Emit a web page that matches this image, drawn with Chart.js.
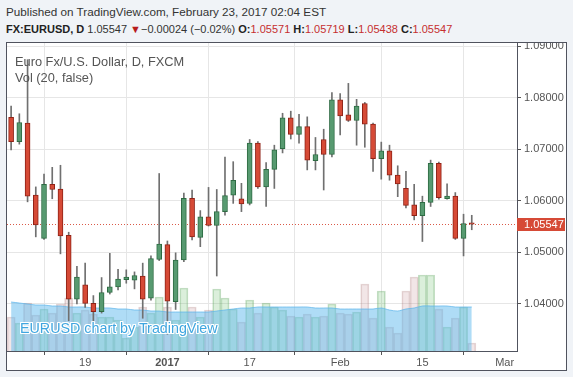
<!DOCTYPE html>
<html>
<head>
<meta charset="utf-8">
<script src="https://cdn.jsdelivr.net/npm/chart.js"></script>
<style>
  body { margin: 0; background: #f0f3f7; font-family: "Liberation Sans", Arial, sans-serif; }
  #page { position: relative; width: 573px; height: 377px; overflow: hidden; }
  #pub { position: absolute; left: 6px; top: 5px; font-size: 11.7px; color: #333; white-space: nowrap; }
  #quote { position: absolute; left: 6px; top: 23px; font-size: 11px; color: #333; white-space: nowrap; }
  #quote b { color: #222; }
  #quote .r { color: #c62f2f; }
  #box { position: absolute; left: 6px; top: 42px; width: 559px; height: 327px; border: 1px solid #50535e; background: #fff; }
  canvas { display: block; }
  .lbl { position: absolute; left: 8px; font-size: 12.8px; color: #555; white-space: nowrap; }
  #mark { position: absolute; left: 13px; top: 277px; font-size: 14.3px; color: #3fa6e0; white-space: nowrap;
          text-shadow: -1px -1px 0 #fff, 1px -1px 0 #fff, -1px 1px 0 #fff, 1px 1px 0 #fff, 0 1px 0 #fff, 0 -1px 0 #fff, 1px 0 0 #fff, -1px 0 0 #fff; }
</style>
</head>
<body>
<div id="page">
  <div id="pub">Published on TradingView.com, February 23, 2017 02:04 EST</div>
  <div id="quote"><b>FX:EURUSD, D</b> 1.05547 <span style="color:#b71c1c">&#9660;</span>&minus;0.00024 (&minus;0.02%) <b>O:</b><span class="r">1.05571</span> <b>H:</b><span class="r">1.05719</span> <b>L:</b><span class="r">1.05438</span> <b>C:</b><span class="r">1.05547</span></div>
  <div id="box">
    <canvas id="myChart" width="559" height="327"></canvas>
    <div class="lbl" style="top:11px">Euro Fx/U.S. Dollar, D, FXCM</div>
    <div class="lbl" style="top:27px">Vol (20, false)</div>
    <div id="mark">EURUSD chart by TradingView</div>
  </div>
</div>
<script>
// daily candles, Dec 6 2016 .. Feb 23 2017
const opens  = [1.0762,1.0715,1.0751,1.0611,1.0527,1.0632,1.0623,1.0533,1.0409,1.0437,
                1.0401,1.0385,1.0422,1.0433,1.0447,1.0446,1.0454,1.0411,1.0486,1.0515,
                1.0404,1.0485,1.0605,1.0529,1.0569,1.0552,1.0579,1.0611,1.0604,1.0595,
                1.0712,1.0627,1.0661,1.0701,1.0761,1.0729,1.0744,1.0678,1.0719,1.0690,
                1.0796,1.0767,1.0756,1.0789,1.0749,1.0682,1.0697,1.0650,1.0624,1.0592,
                1.0571,1.0597,1.0673,1.0604,1.0609,1.0527,1.05571];
const highs  = [1.0784,1.0769,1.0874,1.0627,1.0652,1.0665,1.0669,1.0539,1.0473,1.0479,
                1.0416,1.0451,1.0498,1.0467,1.0466,1.0462,1.0479,1.0493,1.0653,1.0522,
                1.0499,1.0615,1.0621,1.0581,1.0626,1.0622,1.0685,1.0676,1.0634,1.0719,
                1.0715,1.0674,1.0708,1.0770,1.0774,1.0768,1.0763,1.0723,1.0739,1.0810,
                1.0808,1.0828,1.0797,1.0791,1.0751,1.0714,1.0708,1.0668,1.0657,1.0632,
                1.0609,1.0679,1.0675,1.0633,1.0616,1.0574,1.05719];
const lows   = [1.0699,1.0710,1.0598,1.0530,1.0525,1.0604,1.0497,1.0367,1.0400,1.0393,
                1.0362,1.0382,1.0419,1.0427,1.0440,1.0429,1.0372,1.0407,1.0484,1.0341,
                1.0389,1.0482,1.0524,1.0511,1.0551,1.0454,1.0572,1.0595,1.0579,1.0592,
                1.0624,1.0589,1.0624,1.0693,1.0720,1.0712,1.0660,1.0660,1.0621,1.0685,
                1.0728,1.0754,1.0708,1.0704,1.0657,1.0642,1.0640,1.0608,1.0586,1.0563,
                1.0521,1.0589,1.0603,1.0603,1.0525,1.0493,1.05438];
const closes = [1.0715,1.0752,1.0609,1.0553,1.0632,1.0622,1.0532,1.0409,1.0452,1.0401,
                1.0385,1.0422,1.0433,1.0448,1.0452,1.0455,1.0409,1.0488,1.0516,1.0405,
                1.0485,1.0605,1.0530,1.0569,1.0552,1.0579,1.0610,1.0640,1.0594,1.0712,
                1.0627,1.0661,1.0699,1.0761,1.0729,1.0744,1.0679,1.0690,1.0690,1.0796,
                1.0765,1.0756,1.0784,1.0749,1.0682,1.0697,1.0650,1.0633,1.0591,1.0571,
                1.0597,1.0673,1.0606,1.0609,1.0527,1.0556,1.05547];
const volumes = [34,28,48,36,42,38,47,53,38,41, 37,34,34,31,13,24,44,38,54,44,
                 31,63,44,34,41,62,53,42,29,51, 38,48,44,41,35,34,37,34,35,47,
                 38,37,39,67,33,60,24,18,60,74, 76,76,42,24,33,44,8];
const volMA   = [49,48,47,46,46,45,45,44,44,44, 43,43,43,42,42,41,41,40,40,39,
                 39,39,39,39,39,40,41,42,43,43, 44,44,44,44,44,44,44,43,43,43,
                 42,42,42,42,42,43,41,40,42,43, 45,45,45,45,44,44,44];
const tickIdx   = [9, 19, 29, 40, 50, 60];
const tickNames = ['19', '2017', '17', 'Feb', '15', 'Mar'];
const priceTicks = [1.04, 1.05, 1.06, 1.07, 1.08, 1.09];
const lastPrice = 1.05547;

const up = closes.map((c, i) => c >= opens[i]);
const bodies = closes.map((c, i) => ({x: i, y: [opens[i], c]}));
const wicks = highs.map((h, i) => ({x: i, y: [lows[i], h]}));
const vols = volumes.map((v, i) => ({x: i, y: v}));
const ma = volMA.map((v, i) => ({x: i, y: v}));

const lastLine = {
  id: 'lastLine',
  beforeDatasetsDraw(chart) {
    const c = chart.ctx, a = chart.chartArea;
    const y = Math.round(chart.scales.y.getPixelForValue(lastPrice)) + 0.5;
    c.save();
    c.strokeStyle = 'rgba(214,72,52,0.9)';
    c.setLineDash([1, 2]);
    c.lineWidth = 1;
    c.beginPath(); c.moveTo(a.left, y); c.lineTo(a.right, y); c.stroke();
    c.restore();
  },
  afterDraw(chart) {
    const c = chart.ctx, a = chart.chartArea;
    const y = chart.scales.y.getPixelForValue(lastPrice);
    c.save();
    c.fillStyle = '#d64a36';
    c.fillRect(a.right, Math.round(y) - 6, 48, 13);
    c.fillStyle = '#fff';
    c.font = '11px "Liberation Sans", Arial';
    c.textBaseline = 'middle';
    c.fillText(lastPrice.toFixed(5), a.right + 7, Math.round(y) + 0.5);
    c.restore();
  }
};

Chart.defaults.font.family = '"Liberation Sans", Arial, sans-serif';
Chart.defaults.color = '#555';

new Chart(document.getElementById('myChart'), {
  type: 'bar',
  data: {
    datasets: [
      { data: bodies, order: 0, grouped: false, barThickness: 5, minBarLength: 1, borderWidth: 1, borderSkipped: false,
        backgroundColor: up.map(u => u ? '#579a70' : '#d64a36'),
        borderColor: up.map(u => u ? '#2e6b43' : '#8f2216') },
      { data: wicks, order: 1, grouped: false, barThickness: 1, backgroundColor: '#707070' },
      { type: 'line', data: ma, order: 2, yAxisID: 'v', fill: 'origin', pointRadius: 0, tension: 0.3,
        borderColor: 'rgba(90,180,235,0.7)', borderWidth: 1, backgroundColor: 'rgba(95,185,237,0.5)' },
      { data: vols, order: 3, yAxisID: 'v', grouped: false, barPercentage: 1, categoryPercentage: 1, borderWidth: 1,
        backgroundColor: up.map(u => u ? 'rgba(110,190,110,0.25)' : 'rgba(190,130,135,0.2)'),
        borderColor: up.map(u => u ? 'rgba(90,160,90,0.35)' : 'rgba(170,120,120,0.3)') }
    ]
  },
  options: {
    animation: false,
    responsive: false,
    events: [],
    layout: { padding: 0 },
    plugins: { legend: { display: false }, tooltip: { enabled: false } },
    scales: {
      x: {
        type: 'linear', min: -0.5, max: 61.5, offset: false,
        afterBuildTicks(s) { s.ticks = tickIdx.map(v => ({value: v})); },
        afterFit(s) { s.height = 19; s.paddingLeft = 0; s.paddingRight = 0; },
        grid: { color: '#e6e6e6', tickColor: '#555', tickLength: 4 },
        border: { color: '#50535e' },
        ticks: {
          padding: 1, maxRotation: 0, autoSkip: false,
          callback: v => tickNames[tickIdx.indexOf(v)],
          font: ctx => ({ size: 11, weight: ctx.tick && ctx.tick.value === 19 ? 'bold' : 'normal' })
        }
      },
      y: {
        position: 'right', min: 1.03084, max: 1.09064,
        afterBuildTicks(s) { s.ticks = priceTicks.map(v => ({value: v})); },
        afterFit(s) { s.width = 49; s.paddingTop = 0; s.paddingBottom = 0; },
        grid: { color: '#e6e6e6', tickColor: '#555', tickLength: 4 },
        border: { color: '#50535e' },
        ticks: { padding: 3, font: { size: 11 }, callback: v => v.toFixed(5) }
      },
      v: { display: false, min: 0, max: 308 }
    }
  },
  plugins: [lastLine]
});
</script>
</body>
</html>
